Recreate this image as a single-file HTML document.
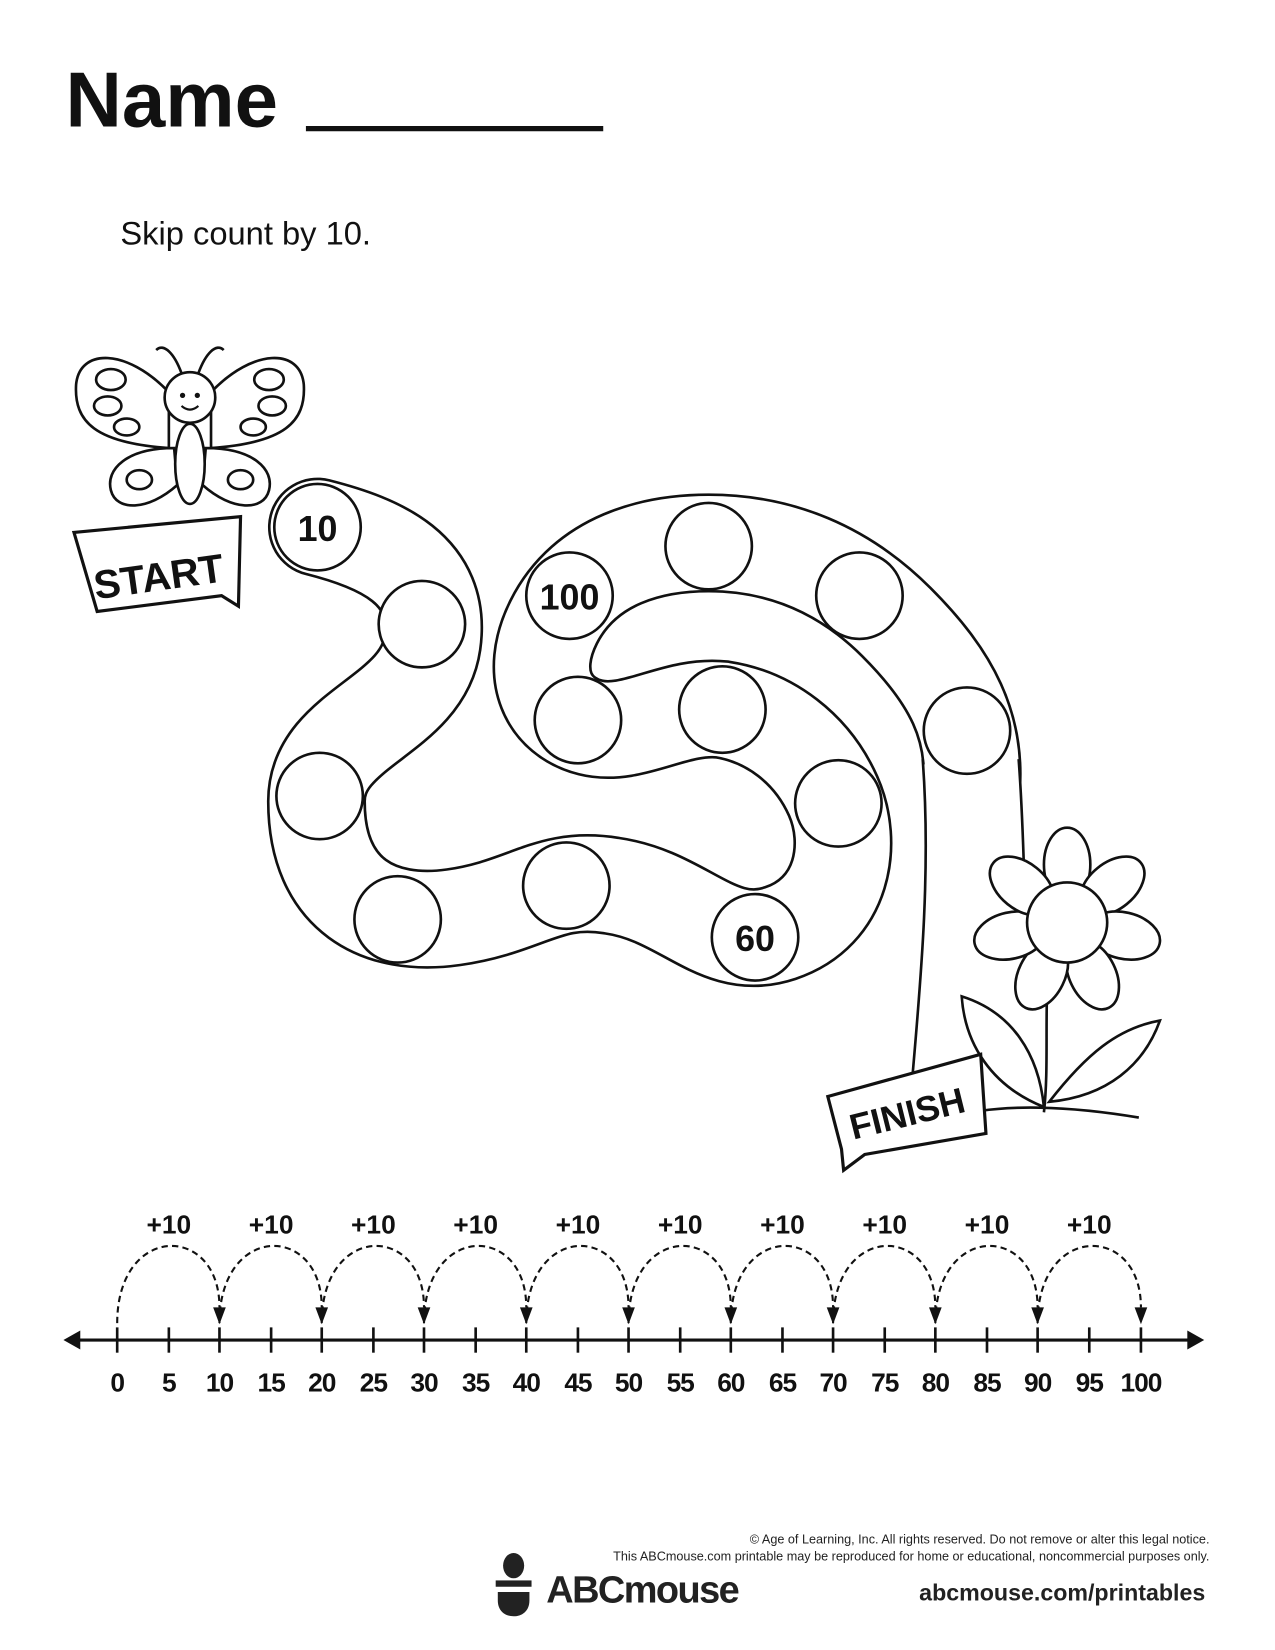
<!DOCTYPE html>
<html><head><meta charset="utf-8"><style>
html,body{margin:0;padding:0;background:#fff}
svg{display:block}
text{font-family:"Liberation Sans",sans-serif}
</style></head><body>
<svg width="1275" height="1650" viewBox="0 0 1209 1565" xmlns="http://www.w3.org/2000/svg">
<rect width="1209" height="1565" fill="#fff"/>
<text x="62" y="120" font-size="74" font-weight="bold" fill="#111">Name</text>
<line x1="290" y1="122" x2="572" y2="122" stroke="#111" stroke-width="5"/>
<text x="114" y="232" font-size="31" fill="#111">Skip count by 10.</text>

<!-- band -->
<g fill="none" stroke-linecap="round" stroke-linejoin="round">
<path d="M301,500 C360,515 420,540 410,610 C400,680 300,690 300,760 C300,850 360,880 430,870 C500,860 520,830 580,840 C650,850 680,905 740,885 C800,865 810,800 790,755 C770,710 730,680 685,673 C640,668 600,700 560,690 C520,680 500,640 525,590 C555,530 620,515 672,515 C740,515 800,540 850,590 C900,640 930,690 920,760" stroke="#111" stroke-width="94"/>
<path d="M301,500 C360,515 420,540 410,610 C400,680 300,690 300,760 C300,850 360,880 430,870 C500,860 520,830 580,840 C650,850 680,905 740,885 C800,865 810,800 790,755 C770,710 730,680 685,673 C640,668 600,700 560,690 C520,680 500,640 525,590 C555,530 620,515 672,515 C740,515 800,540 850,590 C900,640 930,690 920,760" stroke="#fff" stroke-width="89"/>
</g>
<!-- stem -->
<path d="M874,725 L967,725 L975,880 L925,950 L862,1060 Z" fill="#fff" stroke="none"/>
<path d="M966,720 C972,800 970,850 975,880" fill="none" stroke="#111" stroke-width="2.5"/>
<path d="M875,720 C884,840 870,960 862,1060" fill="none" stroke="#111" stroke-width="2.5"/>

<!-- circles -->
<g fill="#fff" stroke="#111" stroke-width="2.5">
<circle cx="301" cy="500" r="41"/>
<circle cx="400" cy="592" r="41"/>
<circle cx="303" cy="755" r="41"/>
<circle cx="377" cy="872" r="41"/>
<circle cx="537" cy="840" r="41"/>
<circle cx="716" cy="889" r="41"/>
<circle cx="795" cy="762" r="41"/>
<circle cx="917" cy="693" r="41"/>
<circle cx="815" cy="565" r="41"/>
<circle cx="672" cy="518" r="41"/>
<circle cx="540" cy="565" r="41"/>
<circle cx="548" cy="683" r="41"/>
<circle cx="685" cy="673" r="41"/>
</g>
<g font-size="34" font-weight="bold" text-anchor="middle" fill="#111">
<text x="301" y="513">10</text>
<text x="540" y="578">100</text>
<text x="716" y="902">60</text>
</g>

<!-- butterfly -->
<g fill="#fff" stroke="#111" stroke-width="2.5">
<path d="M160,372 C120,330 75,330 72,365 C70,400 90,420 160,425 Z"/>
<path d="M200,372 C240,330 285,330 288,365 C290,400 270,420 200,425 Z"/>
<path d="M165,425 C120,425 100,445 105,465 C110,485 140,485 168,460 Z"/>
<path d="M195,425 C240,425 260,445 255,465 C250,485 220,485 192,460 Z"/>
<ellipse cx="180" cy="440" rx="14" ry="38"/>
<circle cx="180" cy="377" r="24"/>
<path d="M172,354 C165,335 155,325 148,332" fill="none"/>
<path d="M188,354 C195,335 205,325 212,332" fill="none"/>
<ellipse cx="105" cy="360" rx="14" ry="10"/><ellipse cx="102" cy="385" rx="13" ry="9"/><ellipse cx="120" cy="405" rx="12" ry="8"/>
<ellipse cx="255" cy="360" rx="14" ry="10"/><ellipse cx="258" cy="385" rx="13" ry="9"/><ellipse cx="240" cy="405" rx="12" ry="8"/>
<ellipse cx="132" cy="455" rx="12" ry="9"/><ellipse cx="228" cy="455" rx="12" ry="9"/>
</g>
<circle cx="173" cy="375" r="2.5" fill="#111"/><circle cx="187" cy="375" r="2.5" fill="#111"/>
<path d="M172,385 Q180,392 188,385" fill="none" stroke="#111" stroke-width="2"/>

<!-- START banner -->
<path d="M70,505 L228,490 L226,575 L210,565 L92,580 Z" fill="#fff" stroke="#111" stroke-width="3"/>
<text x="150" y="560" font-size="38" font-weight="bold" text-anchor="middle" fill="#111" transform="rotate(-8 150 545)">START</text>

<!-- flower -->
<g fill="#fff" stroke="#111" stroke-width="2.5">
<path d="M995,905 C990,960 995,1010 990,1055" fill="none"/>
<path d="M990,1050 C940,1030 915,990 912,945 C960,960 985,1000 990,1050 Z"/>
<path d="M995,1045 C1030,1000 1060,975 1100,968 C1085,1010 1050,1040 995,1045 Z"/>
<g transform="translate(1012,875)">
<ellipse cx="0" cy="-55" rx="22" ry="35"/>
<ellipse cx="0" cy="-55" rx="22" ry="35" transform="rotate(51)"/>
<ellipse cx="0" cy="-55" rx="22" ry="35" transform="rotate(103)"/>
<ellipse cx="0" cy="-55" rx="22" ry="35" transform="rotate(154)"/>
<ellipse cx="0" cy="-55" rx="22" ry="35" transform="rotate(206)"/>
<ellipse cx="0" cy="-55" rx="22" ry="35" transform="rotate(257)"/>
<ellipse cx="0" cy="-55" rx="22" ry="35" transform="rotate(309)"/>
<circle r="38"/>
</g>
<path d="M900,1060 C950,1045 1020,1050 1080,1060" fill="none"/>
</g>
<!-- FINISH banner -->
<path d="M785,1040 L930,1000 L935,1075 L820,1095 L800,1110 L798,1090 Z" fill="#fff" stroke="#111" stroke-width="3"/>
<text x="860" y="1068" font-size="34" font-weight="bold" text-anchor="middle" fill="#111" transform="rotate(-14 860 1055)">FINISH</text>

<!-- number line -->
<line x1="70" y1="1271" x2="1132" y2="1271" stroke="#111" stroke-width="3"/>
<path d="M60,1271 L76,1262 L76,1280 Z" fill="#111"/>
<path d="M1142,1271 L1126,1262 L1126,1280 Z" fill="#111"/>
<g stroke="#111" stroke-width="2.5">
<line x1="111" y1="1259" x2="111" y2="1283"/><line x1="160" y1="1259" x2="160" y2="1283"/><line x1="208" y1="1259" x2="208" y2="1283"/><line x1="257" y1="1259" x2="257" y2="1283"/><line x1="305" y1="1259" x2="305" y2="1283"/><line x1="354" y1="1259" x2="354" y2="1283"/><line x1="402" y1="1259" x2="402" y2="1283"/><line x1="451" y1="1259" x2="451" y2="1283"/><line x1="499" y1="1259" x2="499" y2="1283"/><line x1="548" y1="1259" x2="548" y2="1283"/><line x1="596" y1="1259" x2="596" y2="1283"/><line x1="645" y1="1259" x2="645" y2="1283"/><line x1="693" y1="1259" x2="693" y2="1283"/><line x1="742" y1="1259" x2="742" y2="1283"/><line x1="790" y1="1259" x2="790" y2="1283"/><line x1="839" y1="1259" x2="839" y2="1283"/><line x1="887" y1="1259" x2="887" y2="1283"/><line x1="936" y1="1259" x2="936" y2="1283"/><line x1="984" y1="1259" x2="984" y2="1283"/><line x1="1033" y1="1259" x2="1033" y2="1283"/><line x1="1082" y1="1259" x2="1082" y2="1283"/>
</g>
<g fill="none" stroke="#111" stroke-width="2" stroke-dasharray="6,4">
<path d="M111,1255 C111,1160 208,1160 208,1240"/><path d="M208,1255 C208,1160 305,1160 305,1240"/><path d="M305,1255 C305,1160 402,1160 402,1240"/><path d="M402,1255 C402,1160 499,1160 499,1240"/><path d="M499,1255 C499,1160 596,1160 596,1240"/><path d="M596,1255 C596,1160 693,1160 693,1240"/><path d="M693,1255 C693,1160 790,1160 790,1240"/><path d="M790,1255 C790,1160 887,1160 887,1240"/><path d="M887,1255 C887,1160 984,1160 984,1240"/><path d="M984,1255 C984,1160 1082,1160 1082,1240"/>
</g>
<g fill="#111">
<path d="M202,1240 L214,1240 L208,1256Z"/><path d="M299,1240 L311,1240 L305,1256Z"/><path d="M396,1240 L408,1240 L402,1256Z"/><path d="M493,1240 L505,1240 L499,1256Z"/><path d="M590,1240 L602,1240 L596,1256Z"/><path d="M687,1240 L699,1240 L693,1256Z"/><path d="M784,1240 L796,1240 L790,1256Z"/><path d="M881,1240 L893,1240 L887,1256Z"/><path d="M978,1240 L990,1240 L984,1256Z"/><path d="M1076,1240 L1088,1240 L1082,1256Z"/>
</g>
<g font-size="25" font-weight="bold" text-anchor="middle" fill="#111">
<text x="160" y="1170">+10</text><text x="257" y="1170">+10</text><text x="354" y="1170">+10</text><text x="451" y="1170">+10</text><text x="548" y="1170">+10</text><text x="645" y="1170">+10</text><text x="742" y="1170">+10</text><text x="839" y="1170">+10</text><text x="936" y="1170">+10</text><text x="1033" y="1170">+10</text>
</g>
<g font-size="25" font-weight="bold" text-anchor="middle" fill="#111" letter-spacing="-1">
<text x="111" y="1320">0</text><text x="160" y="1320">5</text><text x="208" y="1320">10</text><text x="257" y="1320">15</text><text x="305" y="1320">20</text><text x="354" y="1320">25</text><text x="402" y="1320">30</text><text x="451" y="1320">35</text><text x="499" y="1320">40</text><text x="548" y="1320">45</text><text x="596" y="1320">50</text><text x="645" y="1320">55</text><text x="693" y="1320">60</text><text x="742" y="1320">65</text><text x="790" y="1320">70</text><text x="839" y="1320">75</text><text x="887" y="1320">80</text><text x="936" y="1320">85</text><text x="984" y="1320">90</text><text x="1033" y="1320">95</text><text x="1082" y="1320">100</text>
</g>

<!-- footer -->
<g font-size="12" text-anchor="end" fill="#222">
<text x="1147" y="1464">© Age of Learning, Inc. All rights reserved. Do not remove or alter this legal notice.</text>
<text x="1147" y="1480">This ABCmouse.com printable may be reproduced for home or educational, noncommercial purposes only.</text>
</g>
<ellipse cx="487" cy="1485" rx="10" ry="12" fill="#222"/>
<rect x="470" y="1499" width="34" height="6" fill="#222"/>
<path d="M472,1510 L502,1510 L502,1518 C502,1528 495,1533 487,1533 C479,1533 472,1528 472,1518 Z" fill="#222"/>
<text x="518" y="1520" font-size="36" font-weight="bold" fill="#222" letter-spacing="-1.5">ABCmouse</text>
<text x="1143" y="1518" font-size="22" font-weight="bold" text-anchor="end" fill="#222">abcmouse.com/printables</text>
</svg>
</body></html>
